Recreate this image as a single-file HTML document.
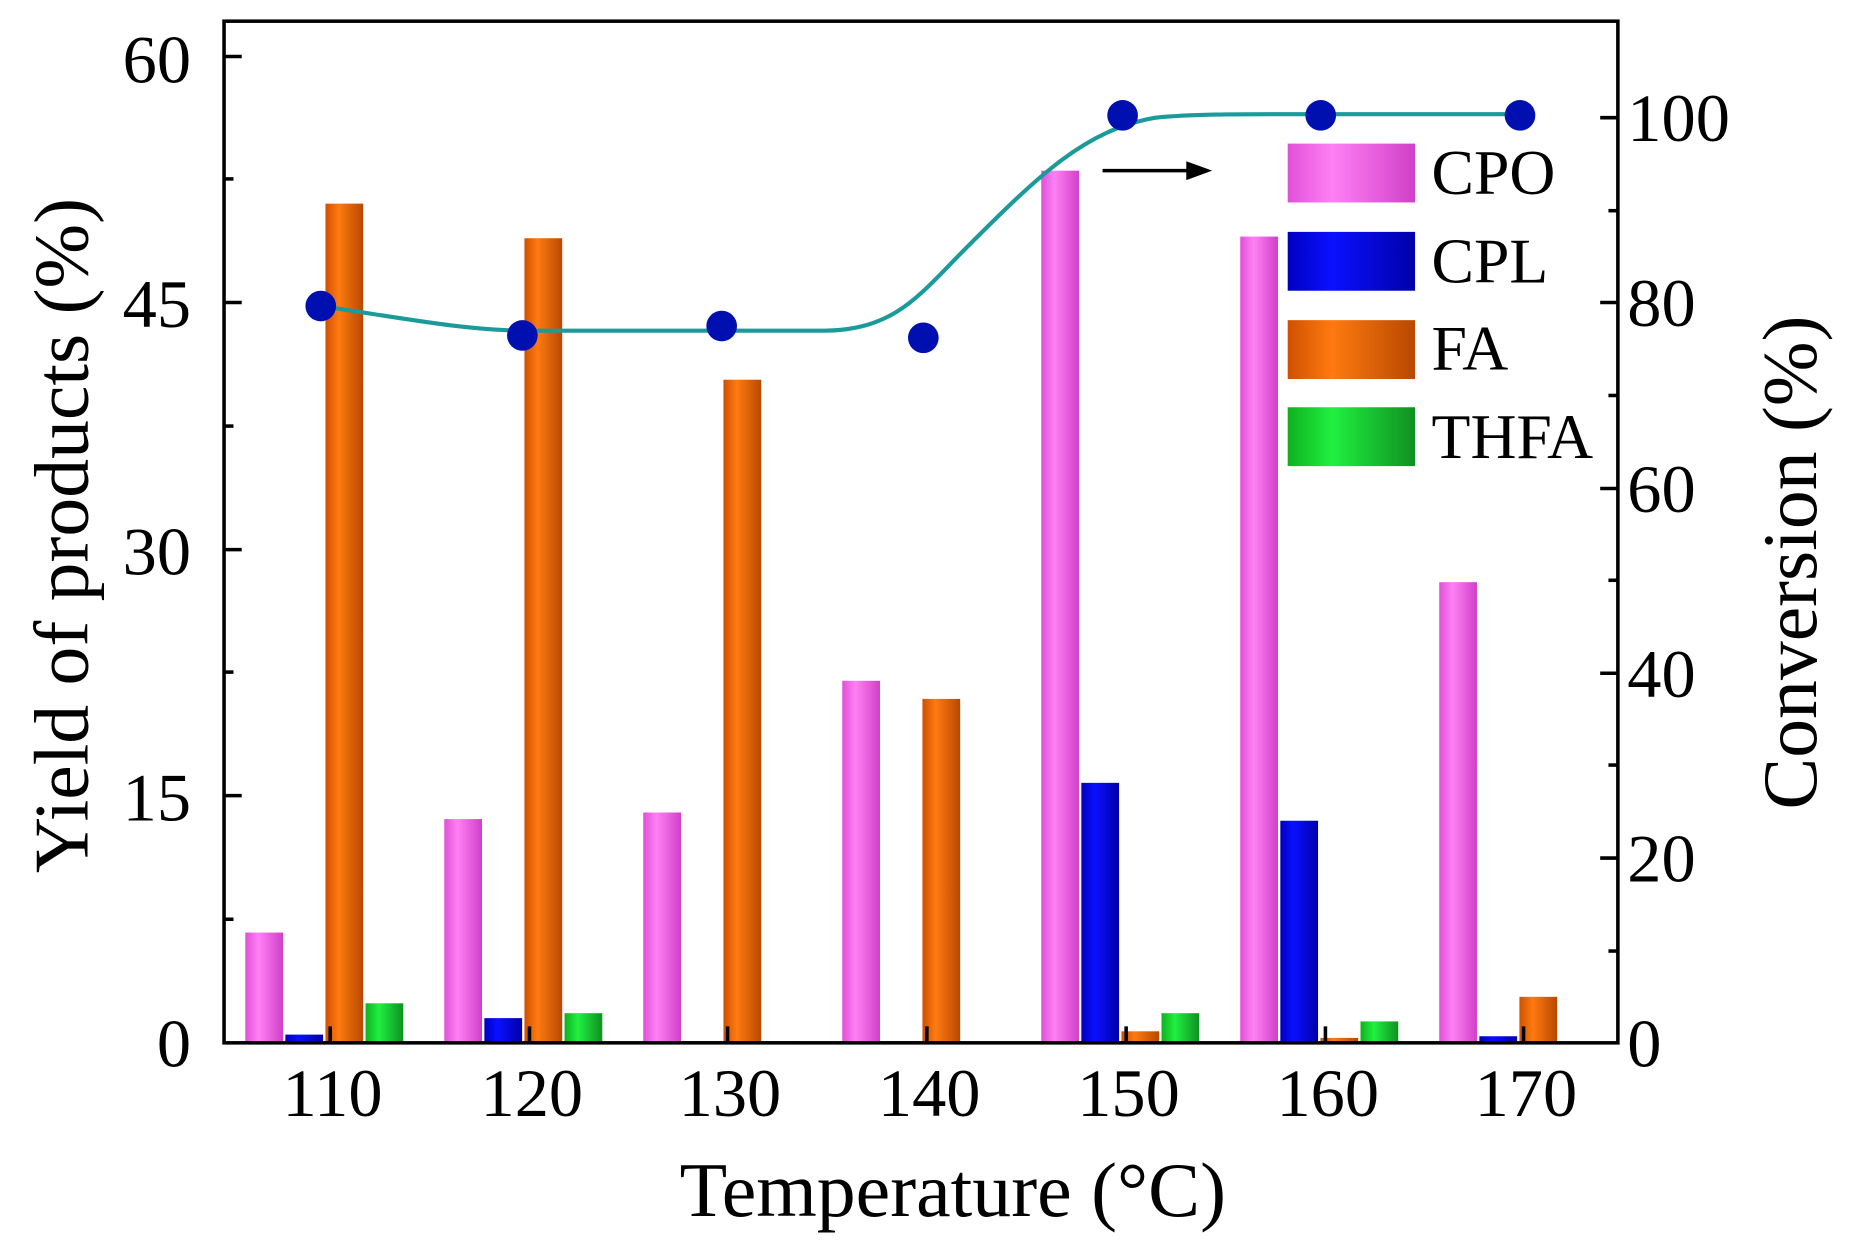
<!DOCTYPE html>
<html><head><meta charset="utf-8"><style>html,body{margin:0;padding:0;background:#fff}svg{display:block}</style></head>
<body>
<svg width="1849" height="1250" viewBox="0 0 1568 1062" preserveAspectRatio="none" xmlns="http://www.w3.org/2000/svg" font-family="Liberation Serif, serif">
<defs>
<linearGradient id="gp" x1="0" x2="1"><stop offset="0" stop-color="#e050d8"/><stop offset="0.35" stop-color="#ff80f4"/><stop offset="1" stop-color="#d040c8"/></linearGradient>
<linearGradient id="gb" x1="0" x2="1"><stop offset="0" stop-color="#0000c0"/><stop offset="0.35" stop-color="#0a10ff"/><stop offset="1" stop-color="#0000a8"/></linearGradient>
<linearGradient id="go" x1="0" x2="1"><stop offset="0" stop-color="#d05000"/><stop offset="0.35" stop-color="#ff7a10"/><stop offset="1" stop-color="#b84800"/></linearGradient>
<linearGradient id="gg" x1="0" x2="1"><stop offset="0" stop-color="#10b020"/><stop offset="0.35" stop-color="#20f040"/><stop offset="1" stop-color="#109020"/></linearGradient>
</defs>
<g>
<rect x="208" y="792.3" width="32" height="93.7" fill="url(#gp)"/>
<rect x="242" y="879" width="32" height="7" fill="url(#gb)"/>
<rect x="276" y="173" width="32" height="713" fill="url(#go)"/>
<rect x="310" y="852.4" width="32" height="33.6" fill="url(#gg)"/>
<rect x="376.75" y="695.9" width="32" height="190.1" fill="url(#gp)"/>
<rect x="410.75" y="865" width="32" height="21" fill="url(#gb)"/>
<rect x="444.75" y="202.4" width="32" height="683.6" fill="url(#go)"/>
<rect x="478.75" y="860.8" width="32" height="25.2" fill="url(#gg)"/>
<rect x="545.5" y="690.3" width="32" height="195.7" fill="url(#gp)"/>
<rect x="579.5" y="884.6" width="32" height="1.4" fill="url(#gb)"/>
<rect x="613.5" y="322.6" width="32" height="563.4" fill="url(#go)"/>
<rect x="647.5" y="884.6" width="32" height="1.4" fill="url(#gg)"/>
<rect x="714.25" y="578.4" width="32" height="307.6" fill="url(#gp)"/>
<rect x="748.25" y="884.6" width="32" height="1.4" fill="url(#gb)"/>
<rect x="782.25" y="593.8" width="32" height="292.2" fill="url(#go)"/>
<rect x="883" y="145" width="32" height="741" fill="url(#gp)"/>
<rect x="917" y="665.1" width="32" height="220.9" fill="url(#gb)"/>
<rect x="951" y="876.2" width="32" height="9.8" fill="url(#go)"/>
<rect x="985" y="860.8" width="32" height="25.2" fill="url(#gg)"/>
<rect x="1051.75" y="201" width="32" height="685" fill="url(#gp)"/>
<rect x="1085.75" y="697.3" width="32" height="188.7" fill="url(#gb)"/>
<rect x="1119.75" y="881.8" width="32" height="4.2" fill="url(#go)"/>
<rect x="1153.75" y="867.8" width="32" height="18.2" fill="url(#gg)"/>
<rect x="1220.5" y="494.6" width="32" height="391.4" fill="url(#gp)"/>
<rect x="1254.5" y="880.4" width="32" height="5.6" fill="url(#gb)"/>
<rect x="1288.5" y="846.9" width="32" height="39.1" fill="url(#go)"/>
</g>
<rect x="190" y="18" width="1182" height="868" fill="none" stroke="#000" stroke-width="3"/>
<g stroke="#000" stroke-width="3">
<line x1="190" y1="48" x2="205" y2="48"/><line x1="190" y1="257" x2="205" y2="257"/><line x1="190" y1="467" x2="205" y2="467"/><line x1="190" y1="676" x2="205" y2="676"/>
<line x1="190" y1="152" x2="198" y2="152"/><line x1="190" y1="362" x2="198" y2="362"/><line x1="190" y1="571" x2="198" y2="571"/><line x1="190" y1="781" x2="198" y2="781"/>
<line x1="1372" y1="100" x2="1357" y2="100"/><line x1="1372" y1="257" x2="1357" y2="257"/><line x1="1372" y1="415" x2="1357" y2="415"/><line x1="1372" y1="572" x2="1357" y2="572"/><line x1="1372" y1="729" x2="1357" y2="729"/>
<line x1="1372" y1="179" x2="1364" y2="179"/><line x1="1372" y1="336" x2="1364" y2="336"/><line x1="1372" y1="493" x2="1364" y2="493"/><line x1="1372" y1="650" x2="1364" y2="650"/><line x1="1372" y1="808" x2="1364" y2="808"/>
<line x1="280" y1="886" x2="280" y2="872"/><line x1="449" y1="886" x2="449" y2="872"/><line x1="617" y1="886" x2="617" y2="872"/><line x1="786" y1="886" x2="786" y2="872"/><line x1="955" y1="886" x2="955" y2="872"/><line x1="1124" y1="886" x2="1124" y2="872"/><line x1="1292" y1="886" x2="1292" y2="872"/>
</g>
<g font-size="58" fill="#000">
<g text-anchor="end"><text x="162" y="70">60</text><text x="162" y="278">45</text><text x="162" y="488">30</text><text x="162" y="697">15</text><text x="162" y="906">0</text></g>
<g text-anchor="start"><text x="1380" y="120">100</text><text x="1380" y="277">80</text><text x="1380" y="435">60</text><text x="1380" y="592">40</text><text x="1380" y="749">20</text><text x="1380" y="906">0</text></g>
<g text-anchor="middle"><text x="282" y="948">110</text><text x="451" y="948">120</text><text x="619" y="948">130</text><text x="788" y="948">140</text><text x="957" y="948">150</text><text x="1126" y="948">160</text><text x="1294" y="948">170</text></g>
</g>
<text x="808" y="1033" font-size="66" text-anchor="middle">Temperature (°C)</text>
<text transform="translate(74,455) rotate(-90)" font-size="66" text-anchor="middle">Yield of products (%)</text>
<text transform="translate(1540,478) rotate(-90)" font-size="66" text-anchor="middle">Conversion (%)</text>
<path d="M272,260 C340,270 390,280 443,281 L700,281 C760,280 780,250 820,210 C880,150 920,110 980,100 C1010,97 1050,97 1080,97 L1289,97" fill="none" stroke="#1a9a9a" stroke-width="3.5"/>
<g fill="#0010b0">
<circle cx="272" cy="260" r="13"/><circle cx="443" cy="285" r="13"/><circle cx="612" cy="277" r="13"/><circle cx="783" cy="287" r="13"/><circle cx="952" cy="98" r="13"/><circle cx="1120" cy="98" r="13"/><circle cx="1289" cy="98" r="13"/>
</g>
<line x1="935" y1="145" x2="1010" y2="145" stroke="#000" stroke-width="3"/>
<polygon points="1028,145 1006,137 1006,153" fill="#000"/>
<rect x="1092" y="122" width="108" height="50" fill="url(#gp)"/>
<rect x="1092" y="197" width="108" height="50" fill="url(#gb)"/>
<rect x="1092" y="272" width="108" height="50" fill="url(#go)"/>
<rect x="1092" y="346" width="108" height="50" fill="url(#gg)"/>
<g font-size="54" fill="#000">
<text x="1214" y="165">CPO</text><text x="1214" y="240">CPL</text><text x="1214" y="314">FA</text><text x="1214" y="389">THFA</text>
</g>
</svg>
</body></html>
